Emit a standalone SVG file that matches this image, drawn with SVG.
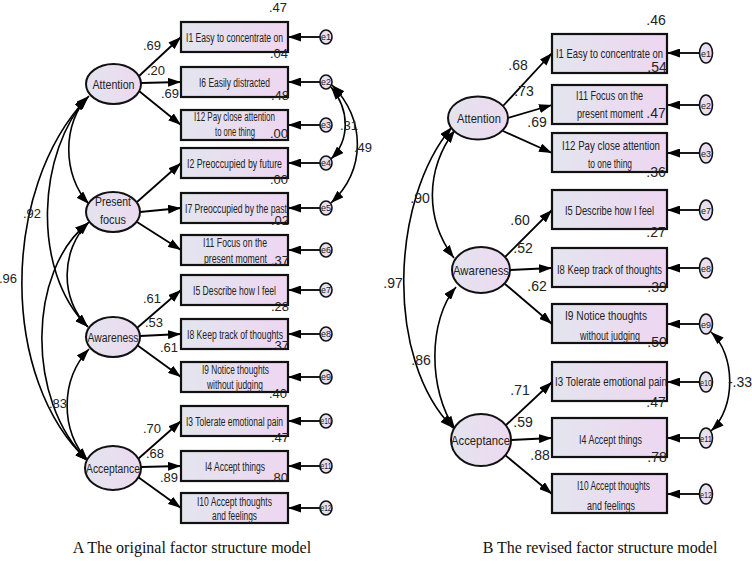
<svg xmlns="http://www.w3.org/2000/svg" width="752" height="566" viewBox="0 0 752 566">
<defs>
<linearGradient id="gb" x1="0" y1="0" x2="1" y2="0"><stop offset="0" stop-color="#e3e5ee"/><stop offset="1" stop-color="#eed6f1"/></linearGradient>
<linearGradient id="ge" x1="0" y1="0" x2="1" y2="0"><stop offset="0" stop-color="#e4e3ee"/><stop offset="1" stop-color="#ecdaf0"/></linearGradient>
<marker id="ah" viewBox="0 0 13 9" refX="13" refY="4.5" markerWidth="13" markerHeight="9" markerUnits="userSpaceOnUse" orient="auto-start-reverse"><path d="M0,0 L13,4.5 L0,9 Z" fill="#000"/></marker>
</defs>
<style>
.box{fill:url(#gb);stroke:#111;stroke-width:2.2}
.lat{fill:url(#ge);stroke:#111;stroke-width:2}
.err{fill:url(#ge);stroke:#111;stroke-width:1.6}
.t{font-family:"Liberation Sans Narrow","Liberation Sans",Arial,sans-serif;fill:#222;text-anchor:middle}
.s{font-size:12.5px}
.r{font-size:13.5px}
.n{font-family:"Liberation Sans Narrow","Liberation Sans",Arial,sans-serif;font-size:13px;fill:#222;text-anchor:middle}
.nr{font-size:14px}
.et{font-family:"Liberation Sans Narrow","Liberation Sans",Arial,sans-serif;font-size:9px;fill:#222;text-anchor:middle}
.p{fill:none;stroke:#000;stroke-width:1.8;marker-end:url(#ah)}
.c{fill:none;stroke:#000;stroke-width:1.6;marker-end:url(#ah);marker-start:url(#ah)}
.cap{font-family:"Liberation Serif","Times New Roman",serif;font-size:16px;fill:#111;text-anchor:middle}
</style>
<rect width="752" height="566" fill="#fff"/>

<g id="connectors">
<line class="p" x1="139" y1="76" x2="181" y2="37"/>
<line class="p" x1="141" y1="83" x2="181" y2="82"/>
<line class="p" x1="139" y1="91" x2="181" y2="125"/>
<line class="p" x1="137" y1="202" x2="181" y2="163"/>
<line class="p" x1="140" y1="212" x2="181" y2="208"/>
<line class="p" x1="137" y1="222" x2="181" y2="250"/>
<line class="p" x1="137" y1="328" x2="181" y2="290"/>
<line class="p" x1="140" y1="336" x2="181" y2="334"/>
<line class="p" x1="137" y1="345" x2="181" y2="377"/>
<line class="p" x1="138" y1="459" x2="181" y2="421"/>
<line class="p" x1="141" y1="467" x2="181" y2="466"/>
<line class="p" x1="138" y1="477" x2="181" y2="508"/>
<line class="p" x1="320" y1="37" x2="288" y2="37"/>
<line class="p" x1="320" y1="82" x2="288" y2="82"/>
<line class="p" x1="320" y1="125" x2="288" y2="125"/>
<line class="p" x1="320" y1="163" x2="288" y2="163"/>
<line class="p" x1="320" y1="208" x2="288" y2="208"/>
<line class="p" x1="320" y1="250" x2="288" y2="250"/>
<line class="p" x1="320" y1="290" x2="288" y2="290"/>
<line class="p" x1="320" y1="334" x2="288" y2="334"/>
<line class="p" x1="320" y1="377" x2="288" y2="377"/>
<line class="p" x1="320" y1="421" x2="288" y2="421"/>
<line class="p" x1="320" y1="466" x2="288" y2="466"/>
<line class="p" x1="320" y1="508" x2="288" y2="508"/>
<path class="c" d="M89,96 C62,122 62,176 89,204"/>
<path class="c" d="M88,97 C38,150 30,270 88,327"/>
<path class="c" d="M87,98 C0,190 0,380 88,461"/>
<path class="c" d="M89,222 C60,250 60,300 88,327"/>
<path class="c" d="M88,223 C28,270 25,400 88,461"/>
<path class="c" d="M89,349 C60,380 60,430 88,461"/>
<path class="c" d="M331,87 C350,110 350,140 331,159"/>
<path class="c" d="M332,85 C366,120 366,170 331,203"/>
<line class="p" x1="503" y1="106" x2="552" y2="53"/>
<line class="p" x1="508" y1="118" x2="552" y2="105"/>
<line class="p" x1="503" y1="131" x2="552" y2="153"/>
<line class="p" x1="505" y1="257" x2="552" y2="210"/>
<line class="p" x1="510" y1="270" x2="552" y2="268"/>
<line class="p" x1="505" y1="284" x2="552" y2="324"/>
<line class="p" x1="505" y1="426" x2="552" y2="382"/>
<line class="p" x1="511" y1="440" x2="552" y2="438"/>
<line class="p" x1="505" y1="455" x2="552" y2="494"/>
<line class="p" x1="699" y1="53" x2="667" y2="53"/>
<line class="p" x1="699" y1="105" x2="667" y2="105"/>
<line class="p" x1="699" y1="153" x2="667" y2="153"/>
<line class="p" x1="699" y1="210" x2="667" y2="210"/>
<line class="p" x1="699" y1="268" x2="667" y2="268"/>
<line class="p" x1="699" y1="324" x2="667" y2="324"/>
<line class="p" x1="699" y1="382" x2="667" y2="382"/>
<line class="p" x1="699" y1="438" x2="667" y2="438"/>
<line class="p" x1="699" y1="494" x2="667" y2="494"/>
<path class="c" d="M455,130 C425,170 425,220 454,258"/>
<path class="c" d="M452,127 C390,200 385,360 453,428"/>
<path class="c" d="M456,287 C428,320 428,390 455,429"/>
<path class="c" d="M711,332 C736,355 736,408 711,431"/>
</g>

<g id="L_attention"><ellipse class="lat" cx="113.5" cy="84" rx="27.5" ry="20"/><text class="t s" x="113.5" y="88.5" textLength="42" lengthAdjust="spacingAndGlyphs">Attention</text></g>
<g id="L_present"><ellipse class="lat" cx="113" cy="212" rx="27" ry="20"/><text class="t s" x="113" y="206" textLength="36" lengthAdjust="spacingAndGlyphs">Present</text><text class="t s" x="113" y="224" textLength="26" lengthAdjust="spacingAndGlyphs">focus</text></g>
<g id="L_awareness"><ellipse class="lat" cx="113" cy="337" rx="27" ry="20"/><text class="t s" x="113" y="341.5" textLength="51" lengthAdjust="spacingAndGlyphs">Awareness</text></g>
<g id="L_acceptance"><ellipse class="lat" cx="113" cy="468" rx="28" ry="22"/><text class="t s" x="113" y="472.5" textLength="54" lengthAdjust="spacingAndGlyphs">Acceptance</text></g>

<g id="L_I1"><rect class="box" x="181" y="22" width="107" height="30"/><text class="t s" x="234.5" y="42" textLength="97" lengthAdjust="spacingAndGlyphs">I1 Easy to concentrate on</text></g>
<g id="L_I6"><rect class="box" x="181" y="67" width="107" height="30"/><text class="t s" x="234.5" y="86.5" textLength="71" lengthAdjust="spacingAndGlyphs">I6 Easily distracted</text></g>
<g id="L_I12"><rect class="box" x="181" y="110" width="107" height="30"/><text class="t s" x="234.5" y="121" textLength="81" lengthAdjust="spacingAndGlyphs">I12 Pay close attention</text><text class="t s" x="235" y="136" textLength="40" lengthAdjust="spacingAndGlyphs">to one thing</text></g>
<g id="L_I2"><rect class="box" x="181" y="148" width="107" height="30"/><text class="t s" x="234.5" y="167.5" textLength="95" lengthAdjust="spacingAndGlyphs">I2 Preoccupied by  future</text></g>
<g id="L_I7"><rect class="box" x="181" y="193" width="107" height="30"/><text class="t s" x="236" y="212.5" textLength="102" lengthAdjust="spacingAndGlyphs">I7 Preoccupied by the past</text></g>
<g id="L_I11"><rect class="box" x="181" y="235" width="107" height="30"/><text class="t s" x="235" y="247" textLength="64" lengthAdjust="spacingAndGlyphs">I11 Focus on the</text><text class="t s" x="235.5" y="263" textLength="63" lengthAdjust="spacingAndGlyphs">present moment</text></g>
<g id="L_I5"><rect class="box" x="181" y="275" width="107" height="30"/><text class="t s" x="234.5" y="294.5" textLength="83" lengthAdjust="spacingAndGlyphs">I5 Describe how I feel</text></g>
<g id="L_I8"><rect class="box" x="181" y="319" width="107" height="30"/><text class="t s" x="235" y="338.5" textLength="96" lengthAdjust="spacingAndGlyphs">I8 Keep track of  thoughts</text></g>
<g id="L_I9"><rect class="box" x="181" y="362" width="107" height="30"/><text class="t s" x="235.5" y="374" textLength="67" lengthAdjust="spacingAndGlyphs">I9 Notice thoughts</text><text class="t s" x="235" y="389" textLength="56" lengthAdjust="spacingAndGlyphs">without judging</text></g>
<g id="L_I3"><rect class="box" x="181" y="406" width="107" height="30"/><text class="t s" x="234.5" y="425.5" textLength="97" lengthAdjust="spacingAndGlyphs">I3 Tolerate emotional pain</text></g>
<g id="L_I4"><rect class="box" x="181" y="451" width="107" height="30"/><text class="t s" x="235" y="470.5" textLength="60" lengthAdjust="spacingAndGlyphs">I4 Accept things</text></g>
<g id="L_I10"><rect class="box" x="181" y="493" width="107" height="30"/><text class="t s" x="234.5" y="506" textLength="75" lengthAdjust="spacingAndGlyphs">I10 Accept thoughts</text><text class="t s" x="234.5" y="519.5" textLength="45" lengthAdjust="spacingAndGlyphs">and feelings</text></g>

<g id="L_e1"><ellipse class="err" cx="326" cy="37" rx="6" ry="7"/><text class="et" x="326" y="40">e1</text></g>
<g id="L_e2"><ellipse class="err" cx="326" cy="82" rx="6" ry="7"/><text class="et" x="326" y="85">e2</text></g>
<g id="L_e3"><ellipse class="err" cx="326" cy="125" rx="6" ry="7"/><text class="et" x="326" y="128">e3</text></g>
<g id="L_e4"><ellipse class="err" cx="326" cy="163" rx="6" ry="7"/><text class="et" x="326" y="166">e4</text></g>
<g id="L_e5"><ellipse class="err" cx="326" cy="208" rx="6" ry="7"/><text class="et" x="326" y="211">e5</text></g>
<g id="L_e6"><ellipse class="err" cx="326" cy="250" rx="6" ry="7"/><text class="et" x="326" y="253">e6</text></g>
<g id="L_e7"><ellipse class="err" cx="326" cy="290" rx="6" ry="7"/><text class="et" x="326" y="293">e7</text></g>
<g id="L_e8"><ellipse class="err" cx="326" cy="334" rx="6" ry="7"/><text class="et" x="326" y="337">e8</text></g>
<g id="L_e9"><ellipse class="err" cx="326" cy="377" rx="6" ry="7"/><text class="et" x="326" y="380">e9</text></g>
<g id="L_e10"><ellipse class="err" cx="326" cy="421" rx="6" ry="7"/><text class="et" x="326" y="424" textLength="11" lengthAdjust="spacingAndGlyphs">e10</text></g>
<g id="L_e11"><ellipse class="err" cx="326" cy="466" rx="6" ry="7"/><text class="et" x="326" y="469" textLength="11" lengthAdjust="spacingAndGlyphs">e11</text></g>
<g id="L_e12"><ellipse class="err" cx="326" cy="508" rx="6" ry="7"/><text class="et" x="326" y="511" textLength="11" lengthAdjust="spacingAndGlyphs">e12</text></g>

<g id="L_labels">
<text class="n" x="152" y="50">.69</text>
<text class="n" x="156" y="75">.20</text>
<text class="n" x="170" y="98">.69</text>
<text class="n" x="152" y="303">.61</text>
<text class="n" x="154" y="327">.53</text>
<text class="n" x="169" y="352">.61</text>
<text class="n" x="152" y="433">.70</text>
<text class="n" x="155" y="458">.68</text>
<text class="n" x="169" y="482">.89</text>
<text class="n" x="278" y="12">.47</text>
<text class="n" x="279" y="58">.04</text>
<text class="n" x="280" y="100">.48</text>
<text class="n" x="279" y="138">.00</text>
<text class="n" x="279" y="184">.00</text>
<text class="n" x="280" y="225">.02</text>
<text class="n" x="280" y="265">.37</text>
<text class="n" x="280" y="311">.28</text>
<text class="n" x="280" y="350">.37</text>
<text class="n" x="278" y="398">.40</text>
<text class="n" x="280" y="442">.47</text>
<text class="n" x="279" y="482">.80</text>
<text class="n" x="349" y="130">.31</text>
<text class="n" x="363" y="152">.49</text>
<text class="n" x="32" y="218">.92</text>
<text class="n" x="8" y="283">.96</text>
<text class="n" x="58" y="408">.83</text>
</g>

<g id="R_attention"><ellipse class="lat" cx="478" cy="118" rx="30" ry="21.5"/><text class="t r" x="479" y="123" textLength="44" lengthAdjust="spacingAndGlyphs">Attention</text></g>
<g id="R_awareness"><ellipse class="lat" cx="481" cy="270" rx="29" ry="23"/><text class="t r" x="481" y="275" textLength="56" lengthAdjust="spacingAndGlyphs">Awareness</text></g>
<g id="R_acceptance"><ellipse class="lat" cx="481" cy="440" rx="30" ry="26"/><text class="t r" x="480.5" y="445" textLength="59" lengthAdjust="spacingAndGlyphs">Acceptance</text></g>

<g id="R_I1"><rect class="box" x="552" y="34" width="115" height="39"/><text class="t r" x="609.5" y="58" textLength="107" lengthAdjust="spacingAndGlyphs">I1 Easy to concentrate on</text></g>
<g id="R_I11"><rect class="box" x="552" y="85" width="115" height="39"/><text class="t r" x="609.5" y="100" textLength="67" lengthAdjust="spacingAndGlyphs">I11 Focus on the</text><text class="t r" x="610" y="118" textLength="66" lengthAdjust="spacingAndGlyphs">present moment</text></g>
<g id="R_I12"><rect class="box" x="552" y="133" width="115" height="39"/><text class="t r" x="611" y="150" textLength="98" lengthAdjust="spacingAndGlyphs">I12 Pay close attention</text><text class="t r" x="610" y="168" textLength="44" lengthAdjust="spacingAndGlyphs">to one thing</text></g>
<g id="R_I5"><rect class="box" x="552" y="190" width="115" height="39"/><text class="t r" x="609.5" y="215" textLength="89" lengthAdjust="spacingAndGlyphs">I5 Describe how I feel</text></g>
<g id="R_I8"><rect class="box" x="552" y="248" width="115" height="39"/><text class="t r" x="609.5" y="274" textLength="105" lengthAdjust="spacingAndGlyphs">I8 Keep track of  thoughts</text></g>
<g id="R_I9"><rect class="box" x="552" y="304" width="115" height="39"/><text class="t r" x="606" y="320" textLength="82" lengthAdjust="spacingAndGlyphs">I9 Notice thoughts</text><text class="t r" x="610" y="340" textLength="60" lengthAdjust="spacingAndGlyphs">without judging</text></g>
<g id="R_I3"><rect class="box" x="552" y="362" width="115" height="39"/><text class="t r" x="611" y="386" textLength="112" lengthAdjust="spacingAndGlyphs">I3 Tolerate emotional pain</text></g>
<g id="R_I4"><rect class="box" x="552" y="418" width="115" height="39"/><text class="t r" x="610.5" y="444" textLength="63" lengthAdjust="spacingAndGlyphs">I4 Accept things</text></g>
<g id="R_I10"><rect class="box" x="552" y="474" width="115" height="39"/><text class="t r" x="613.5" y="490" textLength="73" lengthAdjust="spacingAndGlyphs">I10 Accept thoughts</text><text class="t r" x="611" y="510" textLength="48" lengthAdjust="spacingAndGlyphs">and feelings</text></g>

<g id="R_e1"><ellipse class="err" cx="706" cy="53" rx="6.5" ry="10"/><text class="et" x="706" y="56.5">e1</text></g>
<g id="R_e2"><ellipse class="err" cx="706" cy="105" rx="6.5" ry="10"/><text class="et" x="706" y="108.5">e2</text></g>
<g id="R_e3"><ellipse class="err" cx="706" cy="153" rx="6.5" ry="10"/><text class="et" x="706" y="156.5">e3</text></g>
<g id="R_e7"><ellipse class="err" cx="706" cy="210" rx="6.5" ry="10"/><text class="et" x="706" y="213.5">e7</text></g>
<g id="R_e8"><ellipse class="err" cx="706" cy="268" rx="6.5" ry="10"/><text class="et" x="706" y="271.5">e8</text></g>
<g id="R_e9"><ellipse class="err" cx="706" cy="324" rx="6.5" ry="10"/><text class="et" x="706" y="327.5">e9</text></g>
<g id="R_e10"><ellipse class="err" cx="706" cy="382" rx="6.5" ry="10"/><text class="et" x="706" y="385.5" textLength="12" lengthAdjust="spacingAndGlyphs">e10</text></g>
<g id="R_e11"><ellipse class="err" cx="706" cy="438" rx="6.5" ry="10"/><text class="et" x="706" y="441.5" textLength="12" lengthAdjust="spacingAndGlyphs">e11</text></g>
<g id="R_e12"><ellipse class="err" cx="706" cy="494" rx="6.5" ry="10"/><text class="et" x="706" y="497.5" textLength="12" lengthAdjust="spacingAndGlyphs">e12</text></g>

<g id="R_labels">
<text class="n nr" x="518" y="70">.68</text>
<text class="n nr" x="524" y="96">.73</text>
<text class="n nr" x="537" y="127">.69</text>
<text class="n nr" x="520" y="225">.60</text>
<text class="n nr" x="523" y="253">.52</text>
<text class="n nr" x="537" y="291">.62</text>
<text class="n nr" x="520" y="395">.71</text>
<text class="n nr" x="523" y="427">.59</text>
<text class="n nr" x="540" y="460">.88</text>
<text class="n nr" x="656" y="25">.46</text>
<text class="n nr" x="657" y="72">.54</text>
<text class="n nr" x="656" y="118">.47</text>
<text class="n nr" x="656" y="177">.36</text>
<text class="n nr" x="656" y="237">.27</text>
<text class="n nr" x="657" y="292">.39</text>
<text class="n nr" x="657" y="347">.50</text>
<text class="n nr" x="656" y="407">.47</text>
<text class="n nr" x="657" y="462">.78</text>
<text class="n nr" x="420" y="203">.90</text>
<text class="n nr" x="393" y="288">.97</text>
<text class="n nr" x="421" y="365">.86</text>
<text class="n nr" x="740" y="387">-.33</text>
</g>

<text class="cap" x="192" y="553">A The original factor structure model</text>
<text class="cap" x="600" y="553">B The revised factor structure model</text>
</svg>
